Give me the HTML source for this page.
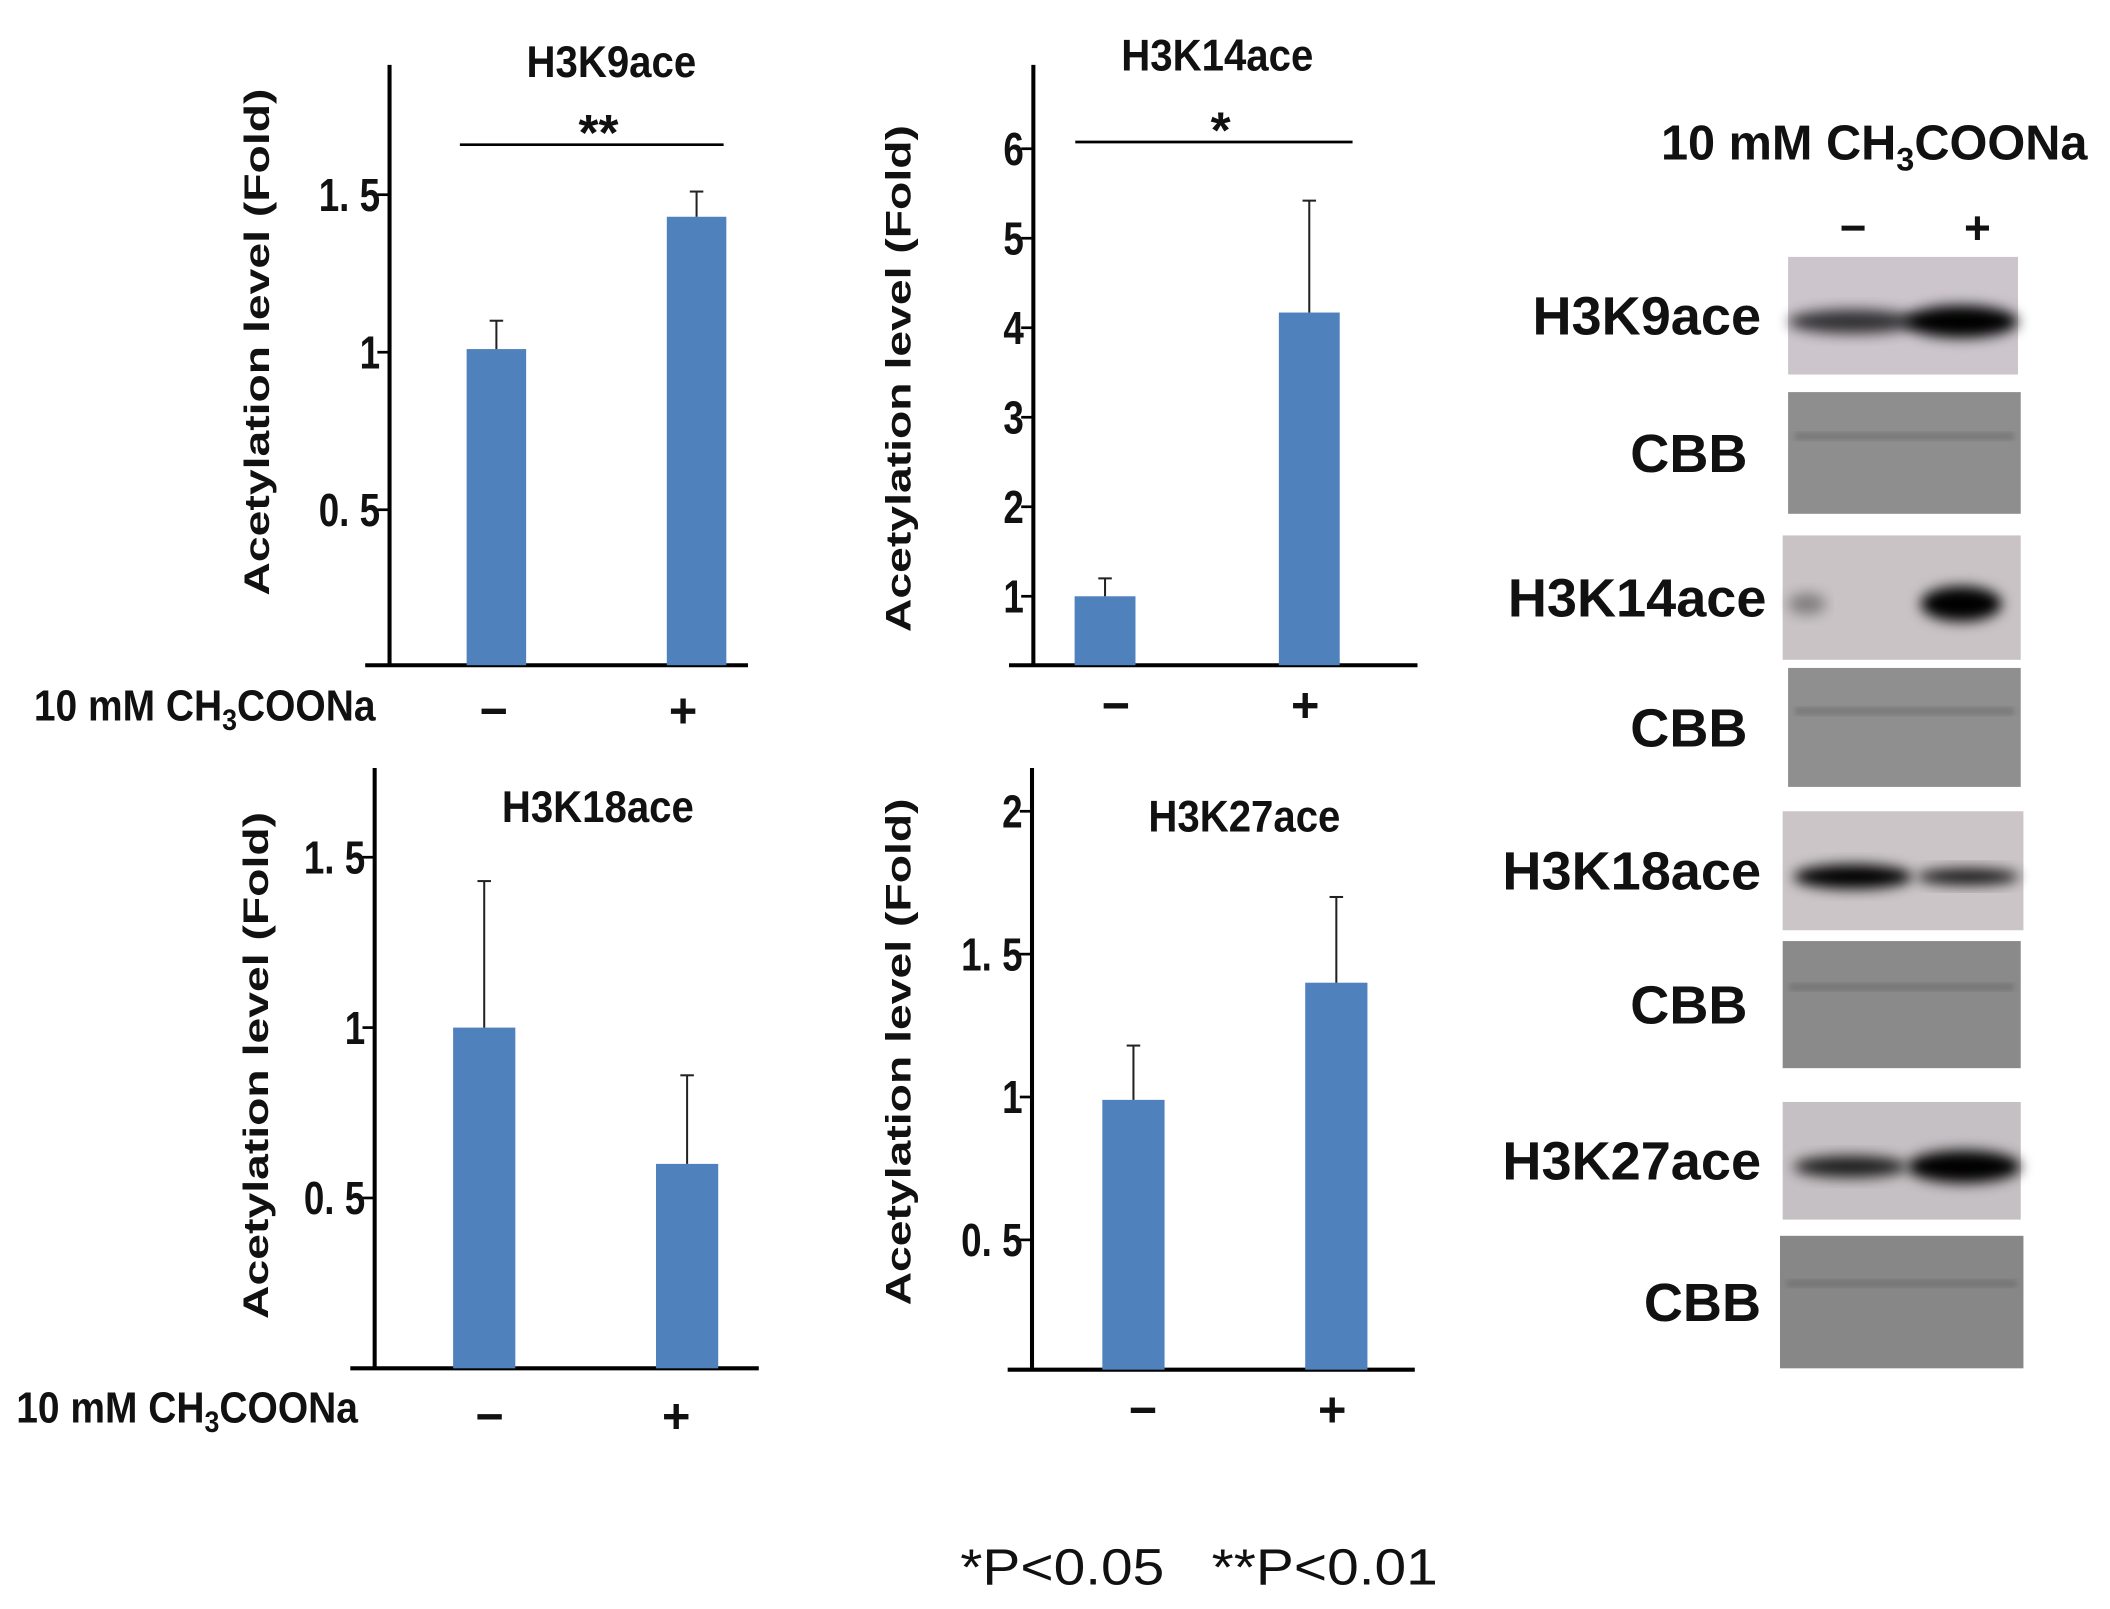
<!DOCTYPE html>
<html><head><meta charset="utf-8"><style>
html,body{margin:0;padding:0;background:#fff}
svg{display:block}
.c{font-family:"Liberation Sans",sans-serif;font-weight:bold;fill:#111}
.w{font-family:"Liberation Sans",sans-serif;font-weight:bold;fill:#111}
</style></head><body>
<svg id="fig" width="2110" height="1609" viewBox="0 0 1560 1190" preserveAspectRatio="none" xmlns="http://www.w3.org/2000/svg">
<defs>
<filter id="blur" x="-20%" y="-50%" width="140%" height="200%"><feGaussianBlur stdDeviation="5"/></filter>
<filter id="blur2"><feGaussianBlur stdDeviation="2"/></filter>
</defs>
<g id="charts"></g>
<text x="710" y="1172" font-family="Liberation Sans, sans-serif" font-size="38" fill="#111" textLength="353" lengthAdjust="spacingAndGlyphs">*P&lt;0.05&#160;&#160;&#160;**P&lt;0.01</text>
<g id="blots">
<text class="w" x="1228" y="118" font-size="36">10&#160;mM&#160;CH<tspan font-size="24" dy="8">3</tspan><tspan dy="-8">COONa</tspan></text>
<text class="w" x="1370" y="180" font-size="34" text-anchor="middle">−</text>
<text class="w" x="1462" y="180" font-size="34" text-anchor="middle">+</text>
</g>
</svg>
<script>
// ---------- chart data ----------
const conditions = ["−", "+"];
const h3k9Values = [1.01, 1.43];
const h3k9Errors = [0.09, 0.08];
const h3k9Ticks = [0.5, 1, 1.5];
const h3k14Values = [1.0, 4.17];
const h3k14Errors = [0.2, 1.25];
const h3k14Ticks = [1, 2, 3, 4, 5, 6];
const h3k18Values = [1.0, 0.60];
const h3k18Errors = [0.43, 0.26];
const h3k18Ticks = [0.5, 1, 1.5];
const h3k27Values = [0.99, 1.40];
const h3k27Errors = [0.19, 0.30];
const h3k27Ticks = [0.5, 1, 1.5, 2];

const NS = "http://www.w3.org/2000/svg";
function mk(parent, tag, attrs, text) {
  const e = document.createElementNS(NS, tag);
  for (const k in attrs) e.setAttribute(k, attrs[k]);
  if (text !== undefined) e.textContent = text;
  parent.appendChild(e);
  return e;
}
function tickLabel(v) { return v % 1 === 0 ? String(v) : String(v).replace(".", ". "); }

function drawChart(cfg) {
  const root = document.getElementById("charts");
  const g = mk(root, "g", {});
  
  
  const y = v => cfg.y1 + (v - cfg.v1) * (cfg.y2 - cfg.y1) / (cfg.v2 - cfg.v1);
  const axis = mk(g, "line", {x1: cfg.ax, y1: cfg.top, x2: cfg.ax, y2: cfg.base, stroke: "#000", "stroke-width": 3});
  
  
  const xaxis = mk(g, "line", {x1: cfg.ax - 18, y1: cfg.base, x2: cfg.xend, y2: cfg.base, stroke: "#000", "stroke-width": 3});
  
  
  cfg.ticks.forEach(t => {
    const ty = y(t);
    const tl = mk(g, "line", {x1: cfg.ax - 9, y1: ty, x2: cfg.ax, y2: ty, stroke: "#000", "stroke-width": 2});
    
    
    const tx = mk(g, "text", {class: "c", x: 0, y: 0, "font-size": 34, "text-anchor": "end",
      transform: "translate(" + (cfg.ax - 7) + "," + (ty + 12) + ") scale(0.8,1)"}, tickLabel(t));
    
    
  });
  cfg.values.forEach((v, i) => {
    const cx = cfg.barX[i];
    const top = y(v);
    const b = mk(g, "rect", {x: cx - cfg.bw / 2, y: top, width: cfg.bw, height: cfg.base - top, fill: "#4f81bd"});
    
    
    const et = y(v + cfg.errors[i]);
    const e1 = mk(g, "line", {x1: cx, y1: top, x2: cx, y2: et, stroke: "#222", "stroke-width": 1.5});
    
    
    const e2 = mk(g, "line", {x1: cx - 5, y1: et, x2: cx + 5, y2: et, stroke: "#222", "stroke-width": 1.5});
    
    
    const cl = mk(g, "text", {class: "c", x: cfg.catX[i], y: cfg.catY, "font-size": 36, "text-anchor": "middle"}, conditions[i]);
    
    
  });
  const title = mk(g, "text", {class: "c", x: 0, y: 0, "font-size": 33, "text-anchor": "middle",
    transform: "translate(" + cfg.titleX + "," + cfg.titleY + ") scale(0.9,1)"}, cfg.title);
  
  
  const yl = mk(g, "text", {class: "w", x: 0, y: 0, "font-size": 26, "text-anchor": "middle", textLength: 375, lengthAdjust: "spacingAndGlyphs",
    transform: "translate(" + cfg.ylX + "," + cfg.ylY + ") rotate(-90)"}, "Acetylation level (Fold)");
  
  
  if (cfg.sig) {
    const sl = mk(g, "line", {x1: cfg.sig.x1, y1: cfg.sig.y, x2: cfg.sig.x2, y2: cfg.sig.y, stroke: "#000", "stroke-width": 2});
    
    
    const st = mk(g, "text", {class: "w", x: (cfg.sig.x1 + cfg.sig.x2) / 2 + 5, y: cfg.sig.y + 4, "font-size": 38, "text-anchor": "middle"}, cfg.sig.mark);
    
    
  }
  if (cfg.rowLabel) {
    const rl = mk(g, "text", {class: "c", x: 0, y: 0, "font-size": 32,
      transform: "translate(" + cfg.rowLabel.x + "," + cfg.rowLabel.y + ") scale(0.9,1)"});
    
    
    rl.appendChild(document.createTextNode("10 mM CH"));
    mk(rl, "tspan", {"font-size": 22, dy: 7}, "3");
    mk(rl, "tspan", {dy: -7}, "COONa");
  }
}

drawChart({name: "chart-h3k9ace", title: "H3K9ace", titleX: 452, titleY: 57, values: h3k9Values, errors: h3k9Errors, ticks: h3k9Ticks,
  ax: 288, top: 48, base: 492, xend: 553, v1: 0.5, y1: 377, v2: 1.5, y2: 144, barX: [367, 515], bw: 44,
  catX: [365, 505], catY: 538, ylX: 199, ylY: 253, sig: {x1: 340, x2: 535, y: 107, mark: "**"}, rowLabel: {x: 25, y: 533}});
drawChart({name: "chart-h3k14ace", title: "H3K14ace", titleX: 900, titleY: 52, values: h3k14Values, errors: h3k14Errors, ticks: h3k14Ticks,
  ax: 764, top: 48, base: 492, xend: 1048, v1: 1, y1: 441, v2: 6, y2: 110, barX: [817, 968], bw: 45,
  catX: [825, 965], catY: 534, ylX: 673, ylY: 280, sig: {x1: 795, x2: 1000, y: 105, mark: "*"}});
drawChart({name: "chart-h3k18ace", title: "H3K18ace", titleX: 442, titleY: 608, values: h3k18Values, errors: h3k18Errors, ticks: h3k18Ticks,
  ax: 277, top: 568, base: 1012, xend: 561, v1: 0.5, y1: 886, v2: 1.5, y2: 634, barX: [358, 508], bw: 46,
  catX: [362, 500], catY: 1060, ylX: 198, ylY: 788, rowLabel: {x: 12, y: 1052}});
drawChart({name: "chart-h3k27ace", title: "H3K27ace", titleX: 920, titleY: 615, values: h3k27Values, errors: h3k27Errors, ticks: h3k27Ticks,
  ax: 763, top: 568, base: 1013, xend: 1046, v1: 0.5, y1: 917, v2: 2, y2: 600, barX: [838, 988], bw: 46,
  catX: [845, 985], catY: 1055, ylX: 673, ylY: 778});

// ---------- blots ----------
const blots = [
  {label: "H3K9ace", x: 1322, y: 190, w: 170, h: 87, bg: "#ccc6cc", bands: [[1370, 48, 9, 0.75], [1450, 42, 12, 1]], lx: 1302},
  {label: "CBB", x: 1322, y: 290, w: 172, h: 90, bg: "#8e8e8e", bands: [], lx: 1292},
  {label: "H3K14ace", x: 1318, y: 396, w: 176, h: 92, bg: "#c9c3c6", bands: [[1336, 14, 8, 0.35], [1450, 30, 13, 1]], lx: 1306},
  {label: "CBB", x: 1322, y: 494, w: 172, h: 88, bg: "#8f8f8f", bands: [], lx: 1292},
  {label: "H3K18ace", x: 1318, y: 600, w: 178, h: 88, bg: "#cbc5c8", bands: [[1370, 44, 9, 1], [1455, 38, 6, 0.9]], lx: 1302},
  {label: "CBB", x: 1318, y: 696, w: 176, h: 94, bg: "#8a8a8a", bands: [], lx: 1292},
  {label: "H3K27ace", x: 1318, y: 815, w: 176, h: 87, bg: "#c5c0c3", bands: [[1368, 42, 8, 0.85], [1452, 42, 12, 1]], lx: 1302},
  {label: "CBB", x: 1316, y: 914, w: 180, h: 98, bg: "#878787", bands: [], lx: 1302}
];
const bg = document.getElementById("blots");
blots.forEach(b => {
  const r = mk(bg, "rect", {x: b.x, y: b.y, width: b.w, height: b.h, fill: b.bg});
  
  
  const cy = b.y + b.h * 0.55;
  b.bands.forEach(d => {
    const e = mk(bg, "ellipse", {cx: d[0], cy: cy, rx: d[1], ry: d[2], fill: "#000", opacity: d[3], filter: "url(#blur)"});
    
    
  });
  if (b.label === "CBB") {
    const s = mk(bg, "rect", {x: b.x + 5, y: b.y + b.h * 0.33, width: b.w - 10, height: 6, fill: "#666", opacity: 0.5, filter: "url(#blur2)"});
    
    
  }
  const t = mk(bg, "text", {class: "w", x: b.lx, y: b.y + b.h / 2 + 14, "font-size": 40, "text-anchor": "end"}, b.label);
  
  
});
</script>
</body></html>
